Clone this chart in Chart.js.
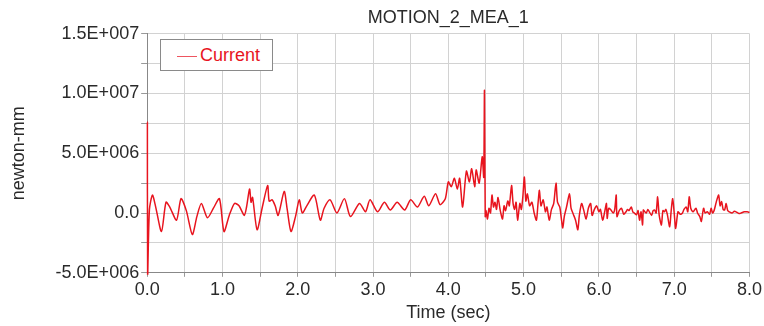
<!DOCTYPE html>
<html lang="en">
<head>
<meta charset="UTF-8">
<title>MOTION_2_MEA_1</title>
<style>
    * { box-sizing: border-box; margin: 0; }
    html, body { background: #fff; }
    #wrap {
        position: relative;
        width: 764px;
        height: 326px;
    }
    #legend {
        position: absolute;
        left: 160px;
        top: 39px;
        width: 113px;
        height: 32px;
        border: 1px solid #8a8a8a;
        background: #fff;
        font-family: "Liberation Sans", Arial, sans-serif;
        font-size: 18px;
        color: #e8141e;
        line-height: 30px;
        padding-left: 16px;
        white-space: nowrap;
    }
    #legend span.swatch {
        display: inline-block;
        width: 20px;
        height: 0;
        border-top: 1.5px solid #ee5560;
        vertical-align: middle;
        margin-right: 3px;
    }
</style>
</head>
<body>
<div id="wrap">
    <canvas id="chartCanvasId"></canvas>
    <div id="legend"><span class="swatch"></span><span id="legendText"></span></div>
</div>

<script src="https://cdn.jsdelivr.net/npm/chart.js@4.4.1/dist/chart.umd.min.js"></script>
<script>
"use strict";

const chartTitle  = "MOTION_2_MEA_1"
const seriesName  = "Current"
const xTitle      = "Time (sec)"
const yTitle      = "newton-mm"

// tick labels
const xTickValues = [0, 1, 2, 3, 4, 5, 6, 7, 8]
const xTickLabels = ["0.0", "1.0", "2.0", "3.0", "4.0", "5.0", "6.0", "7.0", "8.0"]
const yTickValues = [-5e6, 0, 5e6, 1e7, 1.5e7]
const yTickLabels = ["-5.0E+006", "0.0", "5.0E+006", "1.0E+007", "1.5E+007"]

// time (sec)
const times = [
    0.00, 0.003, 0.006, 0.03, 0.07, 0.11, 0.19, 0.25, 0.30, 0.39, 0.45,
    0.52, 0.60, 0.66, 0.72, 0.80, 0.88, 0.96, 1.02, 1.09, 1.16,
    1.22, 1.29, 1.32, 1.36, 1.38, 1.40, 1.46, 1.53, 1.60, 1.62,
    1.66, 1.70, 1.74, 1.82, 1.86, 1.91, 1.97, 2.02,
    2.06, 2.12, 2.22, 2.30, 2.35, 2.43, 2.52, 2.62, 2.70, 2.82,
    2.90, 2.96, 3.06, 3.15, 3.23, 3.32, 3.42, 3.50, 3.59, 3.68,
    3.74, 3.83, 3.89, 3.96,
    4.00, 4.04, 4.08, 4.12, 4.15, 4.19, 4.24, 4.28, 4.31, 4.35,
    4.37, 4.41, 4.45, 4.47, 4.48, 4.49, 4.50, 4.52, 4.54, 4.56,
    4.58, 4.60, 4.62, 4.64, 4.66, 4.69, 4.72, 4.74, 4.76, 4.79,
    4.81, 4.84, 4.86, 4.88, 4.90, 4.92, 4.95, 4.97, 4.99, 5.01,
    5.03, 5.05, 5.08, 5.11, 5.14, 5.17, 5.19, 5.21, 5.23, 5.26,
    5.29, 5.31, 5.34, 5.37, 5.40, 5.43, 5.45, 5.48, 5.50, 5.52,
    5.54, 5.57, 5.61, 5.63, 5.66, 5.69, 5.72, 5.74, 5.77, 5.80,
    5.83, 5.86, 5.89, 5.91, 5.94, 5.97, 6.00,
    6.02, 6.05, 6.08, 6.10, 6.11, 6.13, 6.16, 6.19, 6.21, 6.23,
    6.24, 6.27, 6.30, 6.33, 6.36, 6.38, 6.40, 6.43, 6.45, 6.47,
    6.50, 6.52, 6.54, 6.56, 6.58, 6.59, 6.61, 6.63, 6.65, 6.67,
    6.70, 6.72, 6.74, 6.76, 6.78, 6.80, 6.83, 6.85, 6.87, 6.89,
    6.91, 6.94, 6.96, 6.98, 7.00, 7.02, 7.05, 7.08, 7.11, 7.13,
    7.16, 7.18, 7.20, 7.22, 7.25, 7.27, 7.29, 7.31, 7.34, 7.36,
    7.39, 7.41, 7.44, 7.47, 7.49, 7.51, 7.53, 7.56, 7.59, 7.61,
    7.63, 7.65, 7.67, 7.69, 7.71, 7.73, 7.77, 7.80, 7.82, 7.86,
    7.89, 7.93, 7.97, 8.00
]

// current, in units of 1E+006 newton-mm
const current = [
    7.6, 7.6, -5.2, 0.3, 1.5, 0.6, -1.55, 0.9, 0.5, -0.6, 1.2,
    0.2, -1.8, -0.3, 0.8, -0.4, 0.4, 1.2, -1.55, -0.2, 0.8,
    0.6, -0.2, 0.5, 2.0, 0.9, 1.3, -1.4, 0.5, 2.3, 1.0,
    1.1, 0.6, -0.2, 1.8, 0.3, -1.55, -0.3, 1.1,
    0.0, 0.6, 1.5, -0.6, 0.4, 1.1, 0.0, 1.2, -0.3, 0.8,
    0.1, 1.1, 0.1, 0.9, 0.25, 0.9, 0.25, 1.1, 0.5, 1.4,
    0.6, 1.6, 0.7, 1.2,
    2.6, 2.2, 2.9, 2.0, 2.9, 0.5, 3.5, 2.6, 3.7, 2.2,
    3.6, 2.5, 4.7, 3.0, 10.25, -0.3, 0.2, -0.5, 0.4, 0.0,
    1.5, 0.5, 0.9, 0.3, 1.3, 0.2, -0.5, 0.6, 0.2, 1.0,
    0.6, 2.3, 0.8, 0.3, 0.9, -0.6, 0.8, 0.3, 1.4, 3.0,
    1.0, 1.6, 0.6, 0.9, 0.0, -0.6, 0.7, 1.9, 0.6, 1.1,
    0.1, 0.5, -0.6, 0.3, 0.8, 2.5, 0.9, 0.5, -0.4, -1.25,
    -0.3, 0.5, 1.6, 0.4, -0.1, -0.6, -1.4, -0.2, 0.8, 0.2,
    -0.5, 0.4, 0.8, -0.2, 0.3, 0.6, 0.1,
    0.3, -0.6, 0.2, 0.8, -0.45, 0.4, 0.25, 0.0, 0.3, 1.5,
    -0.3, 0.2, 0.4, -0.1, 0.1, 0.3, 0.2, 0.5, 0.1, 0.0,
    -0.15, 0.2, -0.6, 0.1, -1.0, 0.25, 0.1, 0.0, 0.3, 0.1,
    -0.2, 0.2, 0.25, 0.0, 1.35, -0.15, -1.0, 0.2, 0.1, 0.3,
    -0.15, -1.15, 0.2, 1.2, 0.0, -1.3, 0.1, -0.1, 0.0, 0.3,
    0.5, 0.1, 1.35, 0.4, 0.1, 0.25, 0.4, 0.0, -0.3, -0.7,
    0.4, 0.0, 0.1, -0.1, 0.4, 0.0, 0.2, 0.95, 1.5, 0.6,
    0.95, 0.3, 0.25, 0.8, 0.2, 0.1, 0.0, 0.15, 0.1, -0.05,
    0.0, 0.1, 0.1, 0.05
]

const points = times.map((t, i) => ({ x: t, y: current[i] * 1e6 }))

document.getElementById('legendText').textContent = seriesName

const fontFamily = '"Liberation Sans", Arial, sans-serif'
const textColor  = '#2a2a2a'
const gridColor  = '#d2d2d2'

function lookup(values, labels, v) {
    for (let i = 0; i < values.length; i++) {
        if (Math.abs(values[i] - v) < 1e-9 * Math.max(1, Math.abs(v))) return labels[i]
    }
    return ''
}

const chartCanvas  = document.getElementById('chartCanvasId')
const chartContext = chartCanvas.getContext('2d')

const myChart = new Chart(chartContext, {
    type: 'line',
    data: {
        datasets: [{
            label: seriesName,
            data: points,
            borderColor: '#e8141e',
            borderWidth: 1.5,
            pointRadius: 0,
            tension: 0.25,
            clip: 2,
            fill: false
        }]
    },
    options: {
        responsive: true,
        maintainAspectRatio: false,
        animation: false,
        layout: { padding: { top: 7, right: 0, bottom: 1, left: 8 } },
        plugins: {
            legend: { display: false },
            tooltip: { enabled: false },
            title: {
                display: true,
                text: chartTitle,
                fullSize: false,
                color: textColor,
                font: { family: fontFamily, size: 18, weight: 'normal' },
                padding: { top: 0, bottom: 5 }
            }
        },
        scales: {
            x: {
                type: 'linear',
                min: 0,
                max: 8,
                ticks: {
                    stepSize: 0.5,
                    autoSkip: false,
                    maxRotation: 0,
                    color: textColor,
                    font: { family: fontFamily, size: 18 },
                    padding: 2,
                    callback: v => lookup(xTickValues, xTickLabels, v)
                },
                grid: { color: gridColor, tickLength: 4, tickColor: '#999' },
                border: { color: '#888' },
                title: {
                    display: true,
                    text: xTitle,
                    color: textColor,
                    font: { family: fontFamily, size: 18 },
                    padding: { top: 0, bottom: 1 }
                }
            },
            y: {
                min: -5e6,
                max: 1.5e7,
                ticks: {
                    stepSize: 2.5e6,
                    autoSkip: false,
                    color: textColor,
                    font: { family: fontFamily, size: 18 },
                    padding: 2,
                    callback: v => lookup(yTickValues, yTickLabels, v)
                },
                grid: { color: gridColor, tickLength: 6, tickColor: '#999' },
                border: { color: '#888' },
                title: {
                    display: true,
                    text: yTitle,
                    color: textColor,
                    font: { family: fontFamily, size: 18 },
                    padding: { top: 0, bottom: 24 }
                }
            }
        }
    }
});
</script>
</body>
</html>
